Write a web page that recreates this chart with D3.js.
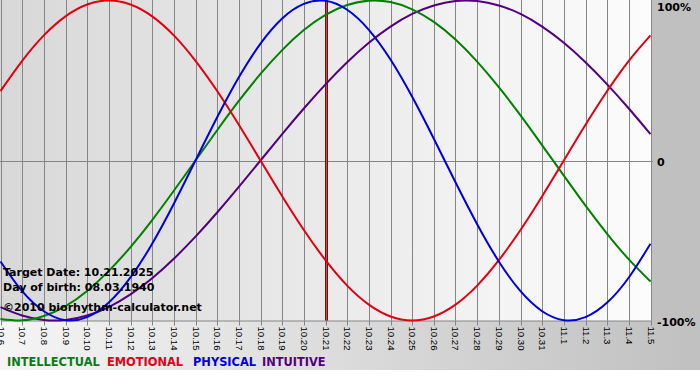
<!DOCTYPE html>
<html><head><meta charset="utf-8">
<script src="https://cdn.jsdelivr.net/npm/d3@7"></script>
<style>html,body{margin:0;padding:0;background:#fff;overflow:hidden}</style>
</head><body><svg id="c" width="700" height="380"></svg>
<script>
const dayLabels = ["10.6","10.7","10.8","10.9","10.10","10.11","10.12","10.13","10.14","10.15","10.16","10.17","10.18","10.19","10.20","10.21","10.22","10.23","10.24","10.25","10.26","10.27","10.28","10.29","10.30","10.31","11.1","11.2","11.3","11.4","11.5"];
const intellectual = [-0.990,-0.999,-0.972,-0.910,-0.815,-0.690,-0.541,-0.372,-0.189,0,0.189,0.372,0.541,0.690,0.815,0.910,0.972,0.999,0.990,0.945,0.866,0.756,0.618,0.458,0.282,0.095,-0.095,-0.282,-0.458,-0.618,-0.756];
const emotional = [0.434,0.623,0.782,0.901,0.975,1.0,0.975,0.901,0.782,0.623,0.434,0.223,0,-0.223,-0.434,-0.623,-0.782,-0.901,-0.975,-1.0,-0.975,-0.901,-0.782,-0.623,-0.434,-0.223,0,0.223,0.434,0.623,0.782];
const physical = [-0.631,-0.817,-0.942,-0.998,-0.979,-0.888,-0.731,-0.520,-0.270,0,0.270,0.520,0.731,0.888,0.979,0.998,0.942,0.817,0.631,0.398,0.136,-0.136,-0.398,-0.631,-0.817,-0.942,-0.998,-0.979,-0.888,-0.731,-0.520];
const intuitive = [-0.916,-0.969,-0.997,-0.997,-0.969,-0.916,-0.837,-0.736,-0.614,-0.476,-0.325,-0.165,0,0.165,0.325,0.476,0.614,0.736,0.837,0.916,0.969,0.997,0.997,0.969,0.916,0.837,0.736,0.614,0.476,0.325,0.165];
const targetLabel = "10.21";
const yTickValues = [1, 0, -1];
const yTickLabels = ["100%", "0", "-100%"];
const legendNames = ["INTELLECTUAL", "EMOTIONAL", "PHYSICAL", "INTUITIVE"];
const infoLines = ["Target Date: 10.21.2025", "Day of birth: 08.03.1940", "\u00a92010 biorhythm-calculator.net"];

const seriesList = [
  {name: "INTUITIVE", values: intuitive, color: "#52007f"},
  {name: "INTELLECTUAL", values: intellectual, color: "#008000"},
  {name: "EMOTIONAL", values: emotional, color: "#e00010"},
  {name: "PHYSICAL", values: physical, color: "#0000dd"}
];
const legendColors = {INTELLECTUAL: "#0d7a1a", EMOTIONAL: "#e00018", PHYSICAL: "#0000dd", INTUITIVE: "#52007f"};
const legendX = [7, 107, 193, 262];

const svg = d3.select("#c");
const W = 700, H = 380;
const plotL = 0.5, plotR = 650.5, plotT = 0.5, plotB = 320.5;

const defs = svg.append("defs");
const g1 = defs.append("linearGradient").attr("id", "bgGrad").attr("x1", 0).attr("x2", 1).attr("y1", 0).attr("y2", 0);
g1.append("stop").attr("offset", 0).attr("stop-color", "#f5f5f5");
g1.append("stop").attr("offset", 1).attr("stop-color", "#c0c0c0");
const g2 = defs.append("linearGradient").attr("id", "plotGrad").attr("x1", 0).attr("x2", 1).attr("y1", 0).attr("y2", 0);
g2.append("stop").attr("offset", 0).attr("stop-color", "#d8d8d8");
g2.append("stop").attr("offset", 1).attr("stop-color", "#fcfcfc");
defs.append("clipPath").attr("id", "clip").append("rect").attr("x", 0).attr("y", 0).attr("width", 651).attr("height", 322);

svg.append("rect").attr("x", 0).attr("y", 0).attr("width", W).attr("height", 370).attr("fill", "url(#bgGrad)");
svg.append("rect").attr("x", 651).attr("y", 0).attr("width", 49).attr("height", 321).attr("fill", "#c0c0c0");
svg.append("rect").attr("x", 0).attr("y", 0).attr("width", 651).attr("height", 321).attr("fill", "url(#plotGrad)");

const x = d3.scaleLinear().domain([0, dayLabels.length - 1]).range([plotL, plotR]);
const y = d3.scaleLinear().domain([-1, 1]).range([plotB, plotT]);

// vertical grid
svg.append("g").selectAll("line").data(dayLabels).join("line")
  .attr("x1", (d, i) => Math.round(x(i)) + 0.5).attr("x2", (d, i) => Math.round(x(i)) + 0.5)
  .attr("y1", 0).attr("y2", plotB)
  .attr("stroke", "#858585").attr("stroke-width", 1);

// zero line
svg.append("line").attr("x1", 0).attr("x2", 653).attr("y1", Math.round(y(0)) + 0.5).attr("y2", Math.round(y(0)) + 0.5)
  .attr("stroke", "#858585");

// x axis
const xAxis = d3.axisBottom(x).tickValues(d3.range(dayLabels.length)).tickFormat(i => dayLabels[i]).tickSize(5).tickSizeOuter(0);
const ax = svg.append("g").attr("transform", `translate(0,${plotB})`).call(xAxis);
ax.select(".domain").attr("stroke", "#858585");
ax.selectAll(".tick").attr("transform", d => `translate(${Math.round(x(d)) + 0.5},0)`);
ax.selectAll(".tick line").attr("stroke", "#858585");
ax.selectAll(".tick text")
  .attr("transform", "rotate(90)").attr("x", 6).attr("y", 0).attr("dy", "0.35em")
  .style("text-anchor", "start").attr("fill", "#000")
  .style("font-family", "'Liberation Sans', Arial, sans-serif").style("font-size", "9.6px");

// target line
const ti = dayLabels.indexOf(targetLabel);
const tx = Math.round(x(ti)) + 0.5;
svg.append("line").attr("x1", tx).attr("x2", tx).attr("y1", 0).attr("y2", plotB).attr("stroke", "#6a1212").attr("stroke-width", 3);
svg.append("line").attr("x1", tx).attr("x2", tx).attr("y1", 0).attr("y2", plotB).attr("stroke", "#c05252").attr("stroke-width", 1);

// curves
const line = d3.line().x((d, i) => x(i)).y(d => y(d)).curve(d3.curveNatural);
const cg = svg.append("g").attr("clip-path", "url(#clip)");
seriesList.forEach(s => {
  cg.append("path").datum(s.values).attr("d", line).attr("fill", "none")
    .attr("stroke", s.color).attr("stroke-width", 2);
});

// right labels
svg.append("g").selectAll("text").data(yTickValues).join("text")
  .attr("x", 657).attr("y", d => Math.max(y(d) + 5.5, 11))
  .text((d, i) => yTickLabels[i])
  .style("font-family", "'DejaVu Sans', Verdana, sans-serif").style("font-weight", "bold").style("font-size", "11px").attr("fill", "#000");

// info text
const infoY = [276, 291, 311];
svg.append("g").selectAll("text").data(infoLines).join("text")
  .attr("x", 3).attr("y", (d, i) => infoY[i]).text(d => d)
  .style("font-family", "'DejaVu Sans', Verdana, sans-serif").style("font-weight", "bold").style("font-size", "11px").attr("fill", "#000");

// legend
svg.append("g").selectAll("text").data(legendNames).join("text")
  .attr("x", (d, i) => legendX[i]).attr("y", 366).text(d => d)
  .attr("fill", d => legendColors[d])
  .style("font-family", "'DejaVu Sans', Verdana, sans-serif").style("font-weight", "bold").style("font-size", "11.4px");
</script></body></html>
